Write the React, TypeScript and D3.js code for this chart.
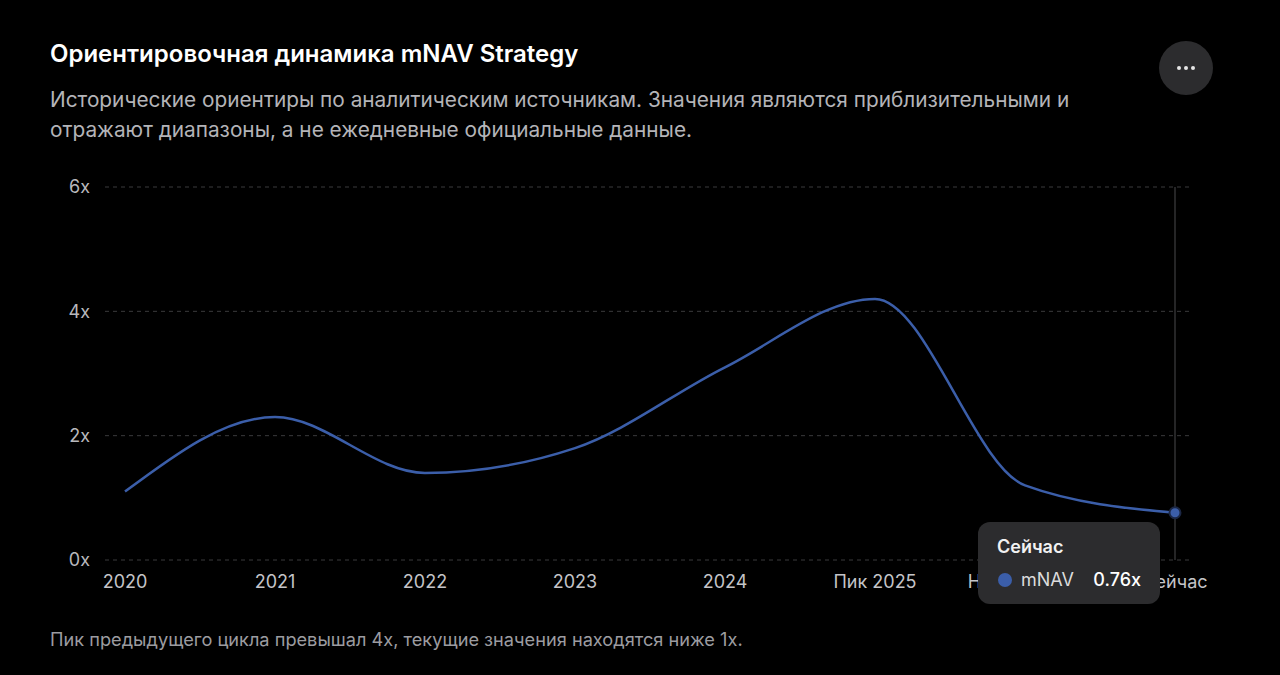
import React from "react";
import * as d3 from "d3";

// Chart data
const categories = ["2020", "2021", "2022", "2023", "2024", "Пик 2025", "Начало 2026", "Сейчас"];
const mnavValues = [1.1, 2.3, 1.4, 1.8, 3.1, 4.2, 1.2, 0.76];
const yTicks = [0, 2, 4, 6];

const title = "Ориентировочная динамика mNAV Strategy";
const subtitleLines = [
  "Исторические ориентиры по аналитическим источникам. Значения являются приблизительными и",
  "отражают диапазоны, а не ежедневные официальные данные.",
];
const footnote = "Пик предыдущего цикла превышал 4x, текущие значения находятся ниже 1x.";

const WIDTH = 1280;
const HEIGHT = 675;
const FONT = "Inter, 'Noto Sans', Roboto, sans-serif";
const LINE_COLOR = "#3b5ea9";

const App: React.FC = () => {
  const x = d3.scalePoint<string>().domain(categories).range([125, 1175]);
  const y = d3.scaleLinear().domain([0, 6]).range([560, 187]);

  const line = d3
    .line<number>()
    .x((_, i) => x(categories[i]) as number)
    .y((d) => y(d))
    .curve(d3.curveMonotoneX);

  const activeIndex = categories.length - 1;
  const ax = x(categories[activeIndex]) as number;
  const ay = y(mnavValues[activeIndex]);

  // tooltip box
  const tipW = 182;
  const tipH = 82;
  const tipX = 978;
  const tipY = 522;

  document.body.style.background = "#000";

  return (
    <div style={{ position: "absolute", left: 0, top: 0, background: "#000" }}>
      <svg width={WIDTH} height={HEIGHT} style={{ display: "block" }} fontFamily={FONT}>
        <rect width={WIDTH} height={HEIGHT} fill="#000" />

        {/* header */}
        <text x={50} y={62} fill="#fff" fontSize={24} fontWeight={600}>
          {title}
        </text>
        {subtitleLines.map((s, i) => (
          <text key={i} x={50} y={107 + i * 30} fill="#b4b4b8" fontSize={20.8}>
            {s}
          </text>
        ))}

        {/* menu button */}
        <circle cx={1186} cy={68} r={27} fill="#2c2c2e" />
        {[-7, 0, 7].map((dx) => (
          <circle key={dx} cx={1186 + dx} cy={68} r={2} fill="#e6e6e6" />
        ))}

        {/* grid + y axis */}
        {yTicks.map((t) => (
          <g key={t}>
            <line
              x1={105}
              x2={1192}
              y1={y(t)}
              y2={y(t)}
              stroke="#3a3a3c"
              strokeDasharray="4 4"
            />
            <text x={90} y={y(t)} dy="0.35em" textAnchor="end" fill="#b8b8bc" fontSize={18}>
              {`${t}x`}
            </text>
          </g>
        ))}

        {/* x axis labels */}
        {categories.map((c) => (
          <text key={c} x={x(c)} y={588} textAnchor="middle" fill="#c4c4c8" fontSize={18}>
            {c}
          </text>
        ))}

        {/* cursor */}
        <line x1={ax} x2={ax} y1={y(6)} y2={y(0)} stroke="#4a4a4c" strokeWidth={1} />

        {/* series */}
        <path d={line(mnavValues) ?? ""} fill="none" stroke={LINE_COLOR} strokeWidth={2.5} />
        <circle cx={ax} cy={ay} r={5.5} fill={LINE_COLOR} stroke="#1b2745" strokeWidth={2} />

        {/* tooltip */}
        <rect x={tipX} y={tipY} width={tipW} height={tipH} rx={12} fill="#2c2c2e" />
        <text x={tipX + 19} y={tipY + 31} fill="#f2f2f2" fontSize={18} fontWeight={600}>
          {categories[activeIndex]}
        </text>
        <circle cx={tipX + 27} cy={tipY + 58} r={7} fill={LINE_COLOR} />
        <text x={tipX + 43} y={tipY + 64} fill="#dcdcdc" fontSize={18}>
          mNAV
        </text>
        <text x={tipX + tipW - 19} y={tipY + 64} textAnchor="end" fill="#fff" fontSize={18} fontWeight={500}>
          {`${mnavValues[activeIndex]}x`}
        </text>

        {/* footnote */}
        <text x={50} y={646} fill="#9c9ca0" fontSize={18.2}>
          {footnote}
        </text>
      </svg>
    </div>
  );
};

export default App;
